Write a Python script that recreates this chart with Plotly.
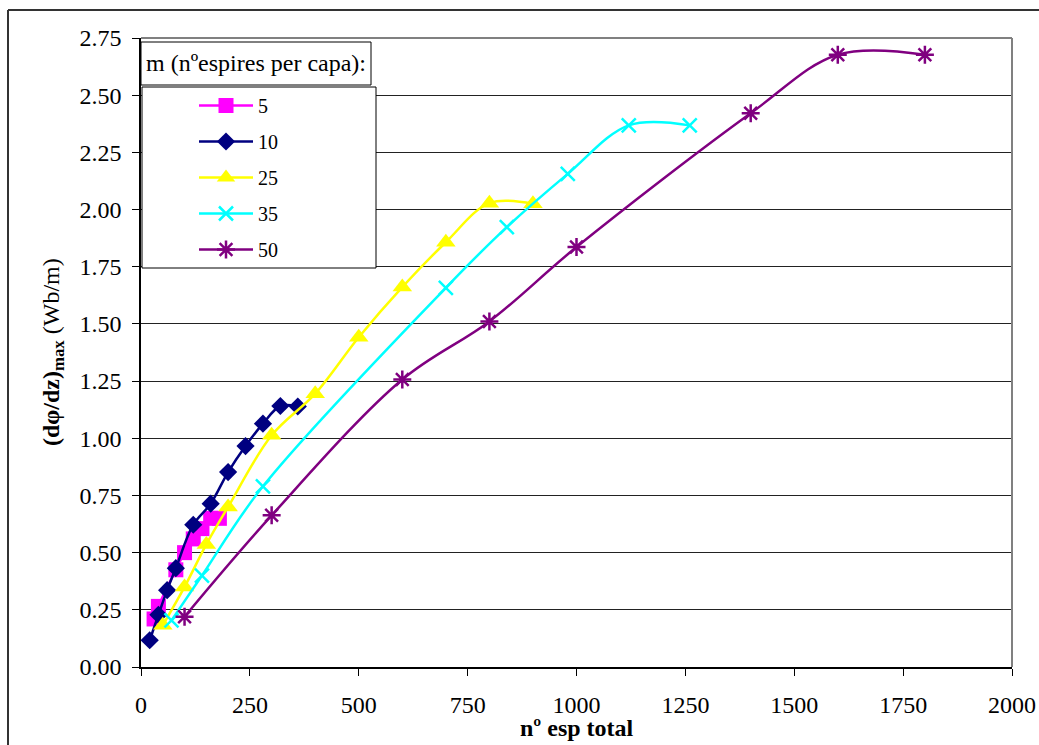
import plotly.graph_objects as go

# ---- data ----
series_names = ["5", "10", "25", "35", "50"]

x_m5 = [30, 40, 80, 100, 120, 140, 160, 180]
y_m5 = [0.21, 0.265, 0.425, 0.50, 0.56, 0.605, 0.65, 0.65]

x_m10 = [20, 40, 60, 80, 120, 160, 200, 240, 280, 320, 360]
y_m10 = [0.117, 0.228, 0.336, 0.432, 0.622, 0.714, 0.852, 0.966, 1.064, 1.141, 1.139]

x_m25 = [50, 100, 150, 200, 300, 400, 500, 600, 700, 800, 900]
y_m25 = [0.182, 0.35, 0.536, 0.70, 1.013, 1.195, 1.442, 1.661, 1.857, 2.028, 2.025]

x_m35 = [70, 140, 280, 700, 840, 980, 1120, 1260]
y_m35 = [0.204, 0.40, 0.79, 1.658, 1.923, 2.156, 2.368, 2.368]

x_m50 = [100, 300, 600, 800, 1000, 1400, 1600, 1800]
y_m50 = [0.22, 0.663, 1.257, 1.511, 1.836, 2.421, 2.677, 2.677]

x_ticks = [0, 250, 500, 750, 1000, 1250, 1500, 1750, 2000]
y_ticks = [0.0, 0.25, 0.5, 0.75, 1.0, 1.25, 1.5, 1.75, 2.0, 2.25, 2.5, 2.75]

legend_title = "m (nºespires per capa):"
x_title = "nº esp total"
y_title = "<b>(dφ/dz)<sub>max</sub></b> (Wb/m)"

# ---- styles ----
FONT = "Liberation Serif, Times New Roman, serif"
styles = [
    dict(color="#FF00FF", symbol="square", size=15, lw=0),
    dict(color="#000080", symbol="diamond", size=14, lw=0),
    dict(color="#FFFF00", symbol="triangle-up", size=17, lw=0),
    dict(color="#00FFFF", symbol="x-thin", size=14, lw=2.5),
    dict(color="#800080", symbol="asterisk", size=15, lw=2.5),
]
data = [(x_m5, y_m5), (x_m10, y_m10), (x_m25, y_m25), (x_m35, y_m35), (x_m50, y_m50)]

fig = go.Figure()
for name, (xs, ys), st in zip(series_names, data, styles):
    fig.add_trace(go.Scatter(
        x=xs, y=ys, name=name, mode="lines+markers",
        legendgroup=name,
        line=dict(color=st["color"], width=2.5, shape="spline", smoothing=1),
        marker=dict(symbol=st["symbol"], size=st["size"], color=st["color"],
                    line=dict(color=st["color"], width=st["lw"])),
    ))

# body margin is removed by post_script, so the figure starts at (0, 0)
W, H = 1039, 745
ML, MR, MT, MB = 141, 27, 38, 78
PW, PH = W - ML - MR, H - MT - MB


def px2x(px):
    return (px - ML) / PW


def px2y(py):
    return (H - MB - py) / PH


shapes = [
    # plot-area border (top/right) gray
    dict(type="line", xref="paper", yref="paper", x0=0, x1=1, y0=1, y1=1,
         line=dict(color="#808080", width=2)),
    dict(type="line", xref="paper", yref="paper", x0=1, x1=1, y0=0, y1=1,
         line=dict(color="#808080", width=2)),
    # outer chart border
    dict(type="line", xref="paper", yref="paper", x0=px2x(8), x1=px2x(8),
         y0=px2y(10), y1=px2y(760), line=dict(color="#333333", width=2)),
    dict(type="line", xref="paper", yref="paper", x0=px2x(8), x1=px2x(1050),
         y0=px2y(10), y1=px2y(10), line=dict(color="#333333", width=2)),
    # legend title box
    dict(type="rect", xref="paper", yref="paper", layer="above",
         x0=px2x(141), x1=px2x(371), y0=px2y(85), y1=px2y(42),
         line=dict(color="black", width=1), fillcolor="white"),
    # legend box
    dict(type="rect", xref="paper", yref="paper", layer="above",
         x0=px2x(142), x1=px2x(376), y0=px2y(268), y1=px2y(87),
         line=dict(color="black", width=1), fillcolor="white"),
]

annotations = [
    dict(text=legend_title, xref="paper", yref="paper", x=px2x(256), y=px2y(63),
         xanchor="center", yanchor="middle", showarrow=False,
         font=dict(family=FONT, size=24, color="black")),
    dict(text="<b>" + x_title + "</b>", xref="paper", yref="paper", x=px2x(576.5), y=px2y(728),
         xanchor="center", yanchor="middle", showarrow=False,
         font=dict(family=FONT, size=24, color="black")),
    dict(text=y_title, xref="paper", yref="paper", x=px2x(53), y=px2y(352),
         xanchor="center", yanchor="middle", showarrow=False, textangle=-90,
         font=dict(family=FONT, size=24, color="black")),
]

fig.update_layout(
    width=W, height=H,
    margin=dict(l=ML, r=MR, t=MT, b=MB, pad=0, autoexpand=False),
    paper_bgcolor="white", plot_bgcolor="white",
    font=dict(family=FONT, size=24, color="black"),
    showlegend=True,
    legend=dict(
        x=px2x(194), y=px2y(86), xanchor="left", yanchor="top",
        bgcolor="rgba(0,0,0,0)", borderwidth=0,
        font=dict(family=FONT, size=20, color="black"),
        traceorder="grouped", tracegroupgap=7,
        itemwidth=54,
    ),
    xaxis=dict(
        range=[0, 2000], tickvals=x_ticks, ticktext=[str(v) for v in x_ticks],
        showgrid=False, zeroline=False, automargin=False,
        showline=True, linecolor="black", linewidth=1.5,
        ticks="outside", ticklen=7, tickcolor="black", tickwidth=1,
        ticklabelstandoff=8,
        tickfont=dict(family=FONT, size=24, color="black"),
    ),
    yaxis=dict(
        range=[0, 2.75], tickvals=y_ticks, ticktext=[f"{v:.2f}" for v in y_ticks],
        showgrid=True, gridcolor="#222222", gridwidth=1, zeroline=False,
        automargin=False,
        showline=True, linecolor="black", linewidth=1.5,
        ticks="outside", ticklen=7, tickcolor="black", tickwidth=1,
        ticklabelstandoff=6,
        tickfont=dict(family=FONT, size=24, color="black"),
    ),
    shapes=shapes,
    annotations=annotations,
)

fig.write_html(
    "out.html",
    config={"displayModeBar": False},
    post_script="document.body.style.margin='0';document.body.style.overflow='hidden';",
)
